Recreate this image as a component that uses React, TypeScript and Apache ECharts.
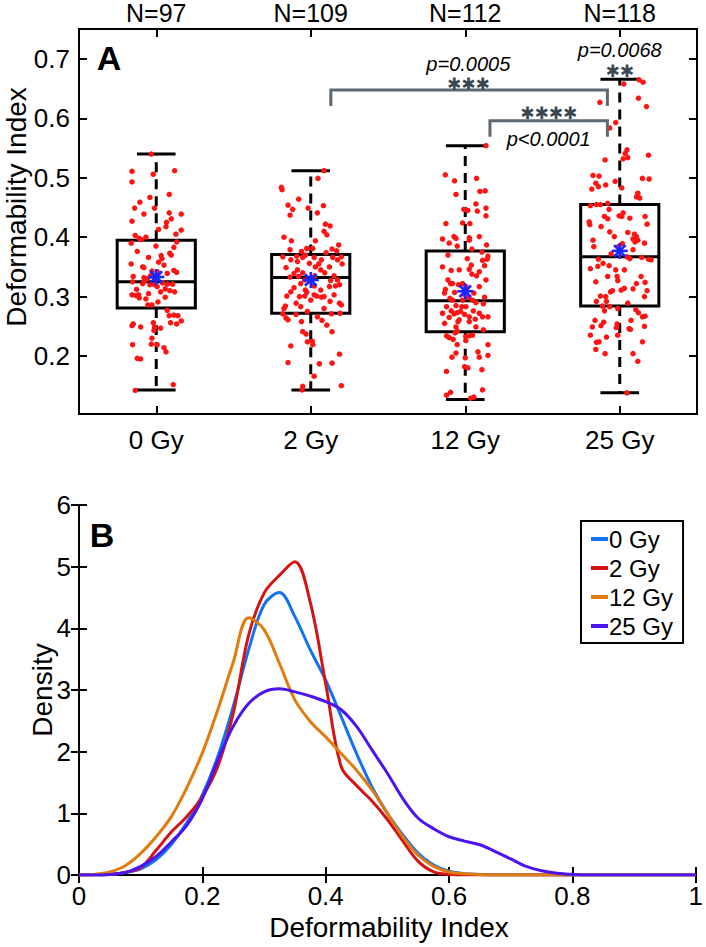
import React, { useEffect, useRef } from 'react';
import * as echarts from 'echarts';

const FONT = '"Liberation Sans", Arial, Helvetica, sans-serif';

// ---------- Panel A data ----------
const categories = ['0 Gy', '2 Gy', '12 Gy', '25 Gy'];
const groupN = ['N=97', 'N=109', 'N=112', 'N=118'];
const whiskerLow = [0.143, 0.143, 0.127, 0.138];
const q1 = [0.281, 0.272, 0.241, 0.284];
const median = [0.325, 0.332, 0.293, 0.367];
const q3 = [0.395, 0.371, 0.377, 0.455];
const whiskerHigh = [0.54, 0.512, 0.554, 0.666];
const means = [0.333, 0.328, 0.309, 0.377];
const yTicksA = [0.2, 0.3, 0.4, 0.5, 0.6, 0.7];

// [horizontal jitter, deformability index]
const dots0Gy = [
  [-0.032, 0.54], [-0.157, 0.511], [0.119, 0.512], [-0.019, 0.506], [-0.157, 0.493], [0.084, 0.472], [-0.041, 0.467],
  [-0.106, 0.459], [-0.14, 0.449], [-0.011, 0.449], [-0.08, 0.439], [0.084, 0.441], [0.162, 0.439], [-0.157, 0.427],
  [0.097, 0.431], [0.067, 0.425], [0.063, 0.418], [0.015, 0.413], [0.162, 0.412], [0.127, 0.405], [-0.136, 0.403],
  [-0.11, 0.398], [-0.097, 0.396], [-0.067, 0.4], [0.132, 0.392], [-0.162, 0.39], [-0.002, 0.385], [0.114, 0.383],
  [0.032, 0.369], [-0.05, 0.366], [0.088, 0.373], [0.097, 0.37], [0.015, 0.358], [-0.162, 0.355], [-0.088, 0.35],
  [-0.08, 0.349], [0.114, 0.344], [0.132, 0.341], [0.071, 0.339], [-0.028, 0.343], [-0.149, 0.334], [-0.08, 0.332],
  [-0.058, 0.33], [-0.076, 0.326], [-0.153, 0.325], [0.041, 0.323], [0.106, 0.321], [0.006, 0.317], [0.058, 0.313],
  [0.088, 0.31], [0.119, 0.308], [-0.127, 0.312], [-0.157, 0.303], [-0.132, 0.302], [-0.11, 0.298], [-0.05, 0.305],
  [0.058, 0.299], [-0.067, 0.296], [0.011, 0.291], [-0.054, 0.286], [-0.028, 0.286], [0.071, 0.277], [0.084, 0.268],
  [0.114, 0.269], [0.14, 0.268], [0.162, 0.259], [0.093, 0.256], [0.132, 0.254], [-0.149, 0.254], [-0.157, 0.251],
  [-0.101, 0.249], [-0.019, 0.256], [-0.011, 0.249], [-0.015, 0.243], [0.028, 0.247], [-0.028, 0.23], [-0.153, 0.219],
  [-0.032, 0.22], [0.006, 0.219], [0.05, 0.214], [0.063, 0.207], [-0.123, 0.196], [-0.101, 0.195], [0.11, 0.152],
  [-0.136, 0.142], [0.006, 0.342], [-0.037, 0.335], [-0.019, 0.334], [-0.011, 0.32], [0.071, 0.321], [0.037, 0.364],
  [-0.114, 0.303], [0.028, 0.308], [-0.041, 0.32], [-0.088, 0.322], [0.05, 0.353], [-0.123, 0.376],
];
const dots2Gy = [
  [0.086, 0.512], [-0.19, 0.484], [-0.186, 0.48], [0.047, 0.499], [-0.078, 0.464], [-0.147, 0.454], [-0.117, 0.447],
  [-0.017, 0.449], [0.082, 0.453], [0.043, 0.441], [-0.134, 0.437], [0.095, 0.422], [0.125, 0.419], [0.086, 0.41],
  [0.104, 0.404], [-0.173, 0.4], [-0.125, 0.394], [0.03, 0.394], [0.181, 0.387], [-0.026, 0.381], [0.013, 0.381],
  [-0.06, 0.376], [0.099, 0.374], [0.138, 0.38], [0.168, 0.377], [-0.181, 0.367], [-0.091, 0.368], [-0.052, 0.366],
  [-0.035, 0.37], [0.022, 0.366], [0.198, 0.367], [0.069, 0.362], [0.142, 0.366], [-0.086, 0.359], [0.052, 0.355],
  [0.03, 0.35], [-0.16, 0.349], [-0.086, 0.345], [0.121, 0.35], [0.203, 0.355], [-0.052, 0.34], [-0.134, 0.333],
  [-0.078, 0.334], [0.091, 0.34], [0.151, 0.335], [0.026, 0.335], [-0.039, 0.328], [0.129, 0.327], [-0.108, 0.315],
  [0.16, 0.318], [0.186, 0.32], [-0.035, 0.311], [0.022, 0.318], [-0.155, 0.301], [-0.039, 0.301], [-0.026, 0.307],
  [0.039, 0.301], [0.022, 0.303], [0.086, 0.3], [0.069, 0.299], [0.151, 0.303], [-0.095, 0.289], [0.125, 0.292],
  [0.186, 0.289], [0.198, 0.286], [-0.164, 0.284], [-0.173, 0.28], [-0.181, 0.271], [-0.16, 0.264], [-0.147, 0.261],
  [-0.095, 0.27], [0.073, 0.26], [0.104, 0.252], [-0.06, 0.258], [0.134, 0.271], [0.19, 0.272], [0.138, 0.241],
  [-0.052, 0.241], [-0.03, 0.237], [-0.022, 0.224], [0.009, 0.225], [0.013, 0.219], [-0.129, 0.217], [0.186, 0.203],
  [-0.147, 0.189], [0.056, 0.187], [0.138, 0.188], [0.022, 0.166], [-0.052, 0.149], [0.198, 0.15], [-0.056, 0.143],
  [-0.129, 0.362], [-0.009, 0.356], [0.065, 0.345], [-0.108, 0.339], [0.0, 0.33], [0.173, 0.328], [-0.065, 0.322],
  [0.065, 0.311], [-0.129, 0.308], [0.0, 0.294], [-0.065, 0.283], [0.086, 0.28], [-0.022, 0.275], [0.043, 0.266],
  [0.173, 0.362], [-0.134, 0.379], [0.121, 0.317], [-0.073, 0.3],
];
const dots12Gy = [
  [0.134, 0.554], [-0.129, 0.505], [-0.069, 0.495], [0.073, 0.499], [0.095, 0.477], [0.129, 0.478], [-0.06, 0.472],
  [0.069, 0.456], [-0.009, 0.447], [0.017, 0.445], [0.134, 0.449], [0.078, 0.444], [0.134, 0.436], [-0.125, 0.423],
  [-0.017, 0.424], [0.03, 0.423], [-0.073, 0.401], [-0.06, 0.398], [-0.147, 0.397], [0.026, 0.399], [-0.052, 0.385],
  [0.138, 0.387], [0.043, 0.38], [0.108, 0.375], [-0.112, 0.37], [0.147, 0.368], [0.013, 0.364], [0.142, 0.363],
  [0.112, 0.361], [0.039, 0.353], [0.125, 0.352], [0.026, 0.346], [-0.091, 0.344], [0.073, 0.335], [0.043, 0.338],
  [-0.112, 0.328], [-0.095, 0.322], [0.134, 0.328], [-0.043, 0.32], [-0.129, 0.312], [-0.134, 0.306], [-0.069, 0.307],
  [0.056, 0.306], [-0.009, 0.304], [0.125, 0.299], [0.022, 0.299], [-0.099, 0.297], [0.069, 0.29], [0.117, 0.288],
  [-0.06, 0.285], [-0.121, 0.283], [-0.022, 0.283], [0.004, 0.283], [-0.091, 0.276], [-0.052, 0.273], [-0.03, 0.275],
  [-0.004, 0.27], [0.052, 0.276], [0.147, 0.266], [-0.073, 0.271], [0.026, 0.266], [0.065, 0.262], [-0.104, 0.265],
  [0.091, 0.272], [-0.047, 0.258], [-0.134, 0.255], [0.117, 0.244], [-0.065, 0.239], [-0.052, 0.242], [-0.121, 0.234],
  [-0.104, 0.231], [0.004, 0.233], [0.026, 0.234], [0.047, 0.235], [-0.078, 0.228], [0.004, 0.226], [-0.052, 0.219],
  [0.147, 0.219], [-0.06, 0.205], [0.082, 0.207], [0.147, 0.201], [-0.086, 0.198], [0.0, 0.197], [0.091, 0.198],
  [-0.004, 0.182], [0.017, 0.18], [-0.121, 0.174], [0.108, 0.177], [0.112, 0.143], [-0.095, 0.139], [-0.121, 0.134],
  [0.035, 0.129], [0.056, 0.131], [-0.082, 0.322], [0.091, 0.317], [-0.017, 0.294], [0.047, 0.294], [-0.082, 0.294],
  [-0.039, 0.261], [0.026, 0.258], [-0.147, 0.35], [-0.039, 0.345], [0.091, 0.342], [-0.017, 0.322], [-0.147, 0.272],
  [0.112, 0.266], [-0.06, 0.249], [0.069, 0.249], [0.026, 0.395], [-0.104, 0.39], [0.091, 0.401], [0.004, 0.317],
];
const dots25Gy = [
  [0.125, 0.665], [0.151, 0.661], [0.026, 0.658], [0.121, 0.634], [-0.129, 0.627], [0.173, 0.62], [-0.026, 0.593],
  [-0.065, 0.584], [0.047, 0.547], [0.035, 0.541], [0.052, 0.534], [0.022, 0.532], [-0.095, 0.53], [0.186, 0.538],
  [-0.173, 0.504], [-0.134, 0.503], [0.147, 0.499], [0.19, 0.498], [-0.03, 0.494], [-0.155, 0.491], [-0.091, 0.488],
  [0.013, 0.483], [-0.181, 0.481], [-0.138, 0.485], [0.117, 0.474], [0.129, 0.466], [0.108, 0.468], [-0.19, 0.453],
  [-0.151, 0.455], [-0.125, 0.455], [-0.078, 0.457], [-0.069, 0.447], [0.022, 0.441], [0.013, 0.435], [-0.004, 0.436],
  [-0.198, 0.426], [-0.194, 0.421], [-0.078, 0.431], [0.065, 0.432], [0.164, 0.435], [0.177, 0.422], [-0.065, 0.409],
  [0.052, 0.408], [0.095, 0.405], [0.108, 0.401], [0.086, 0.397], [0.099, 0.392], [0.117, 0.395], [-0.173, 0.395],
  [-0.168, 0.384], [0.017, 0.389], [-0.009, 0.384], [0.086, 0.379], [-0.056, 0.372], [0.047, 0.367], [0.065, 0.364],
  [-0.138, 0.363], [-0.108, 0.356], [0.142, 0.366], [0.186, 0.363], [0.203, 0.362], [-0.069, 0.352], [-0.19, 0.347],
  [-0.026, 0.345], [-0.017, 0.334], [-0.013, 0.327], [-0.155, 0.325], [0.108, 0.322], [0.164, 0.324], [0.03, 0.314],
  [-0.047, 0.31], [-0.06, 0.308], [0.009, 0.311], [0.086, 0.313], [0.177, 0.31], [-0.125, 0.301], [-0.091, 0.3],
  [-0.151, 0.292], [-0.086, 0.292], [0.16, 0.3], [-0.112, 0.284], [-0.065, 0.283], [-0.099, 0.276], [-0.013, 0.28],
  [0.104, 0.278], [0.121, 0.273], [-0.16, 0.26], [-0.104, 0.257], [-0.177, 0.249], [-0.121, 0.251], [-0.017, 0.254],
  [0.073, 0.26], [0.147, 0.266], [0.164, 0.267], [-0.022, 0.248], [0.06, 0.246], [0.069, 0.245], [-0.19, 0.235],
  [-0.013, 0.235], [0.16, 0.25], [-0.134, 0.224], [-0.151, 0.223], [-0.086, 0.232], [-0.155, 0.211], [0.147, 0.224],
  [-0.095, 0.204], [0.086, 0.204], [0.117, 0.191], [0.047, 0.138], [-0.121, 0.418], [-0.035, 0.401], [-0.142, 0.351],
  [0.03, 0.345], [-0.078, 0.334], [0.138, 0.334], [0.052, 0.289], [-0.099, 0.435], [0.16, 0.39],
];
const dotGroups = [dots0Gy, dots2Gy, dots12Gy, dots25Gy];

// significance brackets (category units / data units)
const bracketLeft = [2.13, 3.16];
const bracketRight = [3.92, 3.92];
const bracketTop = [0.648, 0.596];
const bracketBottom = [0.621, 0.569];
const sigText = ['p=0.0005', '✱✱✱', '✱✱✱✱', 'p<0.0001', 'p=0.0068', '✱✱'];
const sigX = [3.02, 3.02, 3.54, 3.54, 4.0, 4.0];
const sigY = [0.691, 0.658, 0.609, 0.565, 0.715, 0.68];

// ---------- Panel B data ----------
const densityX = [
  0, 0.025, 0.05, 0.075, 0.1, 0.125, 0.15, 0.175, 0.2, 0.225, 0.25, 0.275, 0.3, 0.325, 0.35, 0.375, 0.4, 0.425, 0.45,
  0.475, 0.5, 0.525, 0.55, 0.575, 0.6, 0.625, 0.65, 0.675, 0.7, 0.725, 0.75, 0.775, 0.8, 0.825, 0.85, 0.875, 0.9,
  0.925, 0.95, 0.975, 1,
];
const density0Gy = [
  0, 0, 0.01, 0.04, 0.1, 0.25, 0.5, 0.85, 1.3, 1.92, 2.73, 3.65, 4.38, 4.58, 4.19, 3.65, 3.16, 2.57, 1.97, 1.43, 1.0,
  0.65, 0.35, 0.16, 0.06, 0.02, 0.01, 0, 0, 0, 0, 0, 0, 0, 0, 0, 0, 0, 0, 0, 0,
];
const density2Gy = [
  0, 0, 0.01, 0.04, 0.12, 0.4, 0.7, 0.95, 1.27, 1.76, 2.62, 3.89, 4.57, 4.86, 5.08, 4.42, 3.1, 1.76, 1.45, 1.2, 0.9,
  0.55, 0.22, 0.05, 0.01, 0, 0, 0, 0, 0, 0, 0, 0, 0, 0, 0, 0, 0, 0, 0, 0,
];
const density12Gy = [
  0, 0.01, 0.05, 0.15, 0.35, 0.62, 0.95, 1.42, 1.98, 2.68, 3.45, 4.17, 3.98, 3.43, 2.84, 2.49, 2.24, 1.97, 1.7, 1.38,
  1.0, 0.62, 0.32, 0.14, 0.05, 0.02, 0.01, 0, 0, 0, 0, 0, 0, 0, 0, 0, 0, 0, 0, 0, 0,
];
const density25Gy = [
  0, 0, 0.01, 0.04, 0.14, 0.3, 0.54, 0.81, 1.24, 1.86, 2.41, 2.78, 2.97, 3.02, 2.97, 2.9, 2.81, 2.68, 2.41, 2.03, 1.65,
  1.24, 0.92, 0.75, 0.62, 0.55, 0.49, 0.38, 0.26, 0.14, 0.07, 0.03, 0.01, 0, 0, 0, 0, 0, 0, 0, 0,
];
const densityNames = ['0 Gy', '2 Gy', '12 Gy', '25 Gy'];
const densityColors = ['#1172f4', '#d21414', '#e07b0d', '#4c14ee'];
const densitySeries = [density0Gy, density2Gy, density12Gy, density25Gy];

// ---------- styling constants ----------
const BOX_HALF = 0.253;
const CAP_HALF = 0.125;
const STAR_R = 8;

function buildOption() {
  const axisLine = { show: true, lineStyle: { color: '#000', width: 2 } };
  const tick = { show: true, inside: true, length: 8, lineStyle: { color: '#000', width: 2 } };
  const label = { fontSize: 26, color: '#000', fontFamily: FONT };

  const dotData: number[][] = [];
  dotGroups.forEach((g, i) => g.forEach(([dx, v]) => dotData.push([i + 1 + dx, v])));

  return {
    animation: false,
    backgroundColor: '#fff',
    textStyle: { fontFamily: FONT },
    grid: [
      { left: 79, top: 29, width: 618, height: 385 },
      { left: 79, top: 505, width: 618, height: 370 },
    ],
    xAxis: [
      {
        type: 'category', gridIndex: 0, position: 'bottom', data: categories, boundaryGap: true,
        axisLine, axisTick: { ...tick, alignWithLabel: true, interval: 0 },
        axisLabel: { ...label, margin: 13, interval: 0 }, splitLine: { show: false },
      },
      {
        type: 'category', gridIndex: 0, position: 'top', data: groupN, boundaryGap: true,
        axisLine, axisTick: { ...tick, alignWithLabel: true, interval: 0 },
        axisLabel: { ...label, fontSize: 25, margin: 4, interval: 0 }, splitLine: { show: false },
      },
      { type: 'value', gridIndex: 0, min: 0.5, max: 4.5, show: false, splitLine: { show: false } },
      {
        type: 'value', gridIndex: 1, position: 'bottom', min: 0, max: 1, interval: 0.2,
        axisLine, axisTick: tick, axisLabel: { ...label, margin: 8 }, splitLine: { show: false },
      },
      {
        type: 'value', gridIndex: 1, position: 'top', min: 0, max: 1, interval: 0.2,
        axisLine, axisTick: tick, axisLabel: { show: false }, splitLine: { show: false },
      },
    ],
    yAxis: [
      {
        type: 'value', gridIndex: 0, position: 'left', min: 0.1024, max: 0.7505,
        axisLine, axisTick: { ...tick, customValues: yTicksA },
        axisLabel: { ...label, margin: 9, customValues: yTicksA, formatter: (v: number) => v.toFixed(1) },
        splitLine: { show: false },
      },
      {
        type: 'value', gridIndex: 0, position: 'right', min: 0.1024, max: 0.7505,
        axisLine, axisTick: { ...tick, customValues: yTicksA }, axisLabel: { show: false }, splitLine: { show: false },
      },
      {
        type: 'value', gridIndex: 1, position: 'left', min: 0, max: 6, interval: 1,
        axisLine, axisTick: tick, axisLabel: { ...label, margin: 8 }, splitLine: { show: false },
      },
      {
        type: 'value', gridIndex: 1, position: 'right', min: 0, max: 6, interval: 1,
        axisLine, axisTick: tick, axisLabel: { show: false }, splitLine: { show: false },
      },
    ],
    legend: {
      data: densityNames,
      orient: 'vertical',
      left: 581,
      top: 521,
      padding: [6, 10, 5, 10],
      itemGap: 5,
      itemWidth: 17,
      itemHeight: 4,
      icon: 'rect',
      borderColor: '#000',
      borderWidth: 2,
      backgroundColor: '#fff',
      textStyle: { fontSize: 24, color: '#000', fontFamily: FONT, padding: [0, 0, 0, -4] },
    },
    graphic: [
      { type: 'text', x: 109, y: 58, style: { text: 'A', fill: '#000', font: `bold 34px ${FONT}`, align: 'center', verticalAlign: 'middle' } },
      { type: 'text', x: 102, y: 535, style: { text: 'B', fill: '#000', font: `bold 34px ${FONT}`, align: 'center', verticalAlign: 'middle' } },
      { type: 'text', x: 16, y: 207, rotation: Math.PI / 2, style: { text: 'Deformability Index', fill: '#000', font: `28px ${FONT}`, align: 'center', verticalAlign: 'middle' } },
      { type: 'text', x: 42, y: 690, rotation: Math.PI / 2, style: { text: 'Density', fill: '#000', font: `28px ${FONT}`, align: 'center', verticalAlign: 'middle' } },
      { type: 'text', x: 389, y: 927, style: { text: 'Deformability Index', fill: '#000', font: `28px ${FONT}`, align: 'center', verticalAlign: 'middle' } },
    ],
    series: [
      {
        type: 'custom', name: 'boxes', xAxisIndex: 2, yAxisIndex: 0, z: 2, silent: true,
        data: categories.map((_, i) => [i + 1, whiskerLow[i], q1[i], median[i], q3[i], whiskerHigh[i]]),
        encode: { x: 0, y: [1, 2, 3, 4, 5] },
        renderItem: (params: any, api: any) => {
          const x = api.value(0);
          const lo = api.value(1), a = api.value(2), m = api.value(3), b = api.value(4), hi = api.value(5);
          const pL = api.coord([x - BOX_HALF, b]);
          const pR = api.coord([x + BOX_HALF, a]);
          const pm = api.coord([x, m]);
          const pc = api.coord([x, 0.3]);
          const cl = api.coord([x - CAP_HALF, hi]);
          const cr = api.coord([x + CAP_HALF, lo]);
          const yHi = cl[1], yLo = cr[1];
          const solid = { stroke: '#000', lineWidth: 3, fill: 'none' };
          const dash = { stroke: '#000', lineWidth: 3, lineDash: [10, 7] };
          return {
            type: 'group',
            children: [
              { type: 'line', shape: { x1: pc[0], y1: pL[1], x2: pc[0], y2: yHi }, style: dash },
              { type: 'line', shape: { x1: pc[0], y1: pR[1], x2: pc[0], y2: yLo }, style: dash },
              { type: 'line', shape: { x1: cl[0], y1: yHi, x2: cr[0], y2: yHi }, style: solid },
              { type: 'line', shape: { x1: cl[0], y1: yLo, x2: cr[0], y2: yLo }, style: solid },
              { type: 'rect', shape: { x: pL[0], y: pL[1], width: pR[0] - pL[0], height: pR[1] - pL[1] }, style: solid },
              { type: 'line', shape: { x1: pL[0], y1: pm[1], x2: pR[0], y2: pm[1] }, style: solid },
            ],
          };
        },
      },
      {
        type: 'scatter', name: 'cells', xAxisIndex: 2, yAxisIndex: 0, z: 3, silent: true,
        symbol: 'circle', symbolSize: 5.5, itemStyle: { color: '#ff1414', opacity: 1 },
        data: dotData,
      },
      {
        type: 'custom', name: 'means', xAxisIndex: 2, yAxisIndex: 0, z: 4, silent: true,
        data: categories.map((_, i) => [i + 1, means[i]]),
        renderItem: (params: any, api: any) => {
          const p = api.coord([api.value(0), api.value(1)]);
          const st = { stroke: '#1a26ff', lineWidth: 2.6 };
          const d = STAR_R * 0.72;
          return {
            type: 'group',
            children: [
              { type: 'line', shape: { x1: p[0] - STAR_R, y1: p[1], x2: p[0] + STAR_R, y2: p[1] }, style: st },
              { type: 'line', shape: { x1: p[0], y1: p[1] - STAR_R, x2: p[0], y2: p[1] + STAR_R }, style: st },
              { type: 'line', shape: { x1: p[0] - d, y1: p[1] - d, x2: p[0] + d, y2: p[1] + d }, style: st },
              { type: 'line', shape: { x1: p[0] - d, y1: p[1] + d, x2: p[0] + d, y2: p[1] - d }, style: st },
            ],
          };
        },
      },
      {
        type: 'custom', name: 'brackets', xAxisIndex: 2, yAxisIndex: 0, z: 5, silent: true,
        data: bracketLeft.map((l, i) => [l, bracketRight[i], bracketTop[i], bracketBottom[i]]),
        renderItem: (params: any, api: any) => {
          const a = api.coord([api.value(0), api.value(3)]);
          const b = api.coord([api.value(1), api.value(2)]);
          return {
            type: 'polyline',
            shape: { points: [[a[0], a[1]], [a[0], b[1]], [b[0], b[1]], [b[0], a[1]]] },
            style: { stroke: '#5d6870', lineWidth: 3, fill: 'none' },
          };
        },
      },
      {
        type: 'custom', name: 'significance', xAxisIndex: 2, yAxisIndex: 0, z: 6, silent: true,
        data: sigText.map((_, i) => [sigX[i], sigY[i]]),
        renderItem: (params: any, api: any) => {
          const p = api.coord([api.value(0), api.value(1)]);
          const t = sigText[params.dataIndex];
          const isStar = !t.startsWith('p');
          return {
            type: 'text',
            x: p[0],
            y: p[1],
            style: isStar
              ? { text: t, fill: '#3a4751', font: `17px "DejaVu Sans", sans-serif`, align: 'center', verticalAlign: 'middle' }
              : { text: t, fill: '#000', font: `italic 20px ${FONT}`, align: 'center', verticalAlign: 'middle' },
          };
        },
      },
      ...densitySeries.map((vals, i) => ({
        type: 'line', name: densityNames[i], xAxisIndex: 3, yAxisIndex: 2, z: 3 + (i === 3 ? 1 : 0),
        data: densityX.map((x, k) => [x, vals[k]]),
        smooth: 0.35, showSymbol: false, symbol: 'none',
        lineStyle: { color: densityColors[i], width: 3 },
        itemStyle: { color: densityColors[i] },
      })),
    ],
  };
}

export default function App() {
  const ref = useRef<HTMLDivElement>(null);
  useEffect(() => {
    if (!ref.current) return;
    const chart = echarts.init(ref.current, null, { renderer: 'svg' });
    chart.setOption(buildOption() as any);
    return () => chart.dispose();
  }, []);
  return (
    <div
      ref={ref}
      style={{ position: 'fixed', left: 0, top: 0, width: 706, height: 947, background: '#fff' }}
    />
  );
}
